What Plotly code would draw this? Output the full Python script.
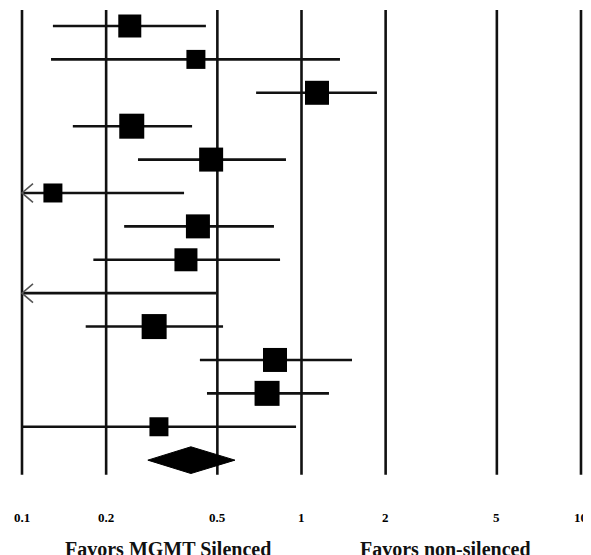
import math
import plotly.graph_objects as go

# ---- data ----
rows = list(range(1, 14))
est = [0.243, 0.419, 1.136, 0.247, 0.475, 0.129, 0.426, 0.386, None, 0.297, 0.804, 0.753, 0.309]
lo = [0.129, 0.127, 0.688, 0.152, 0.260, 0.06, 0.232, 0.180, 0.06, 0.169, 0.433, 0.459, 0.100]
hi = [0.455, 1.373, 1.862, 0.406, 0.880, 0.380, 0.797, 0.838, 0.495, 0.524, 1.516, 1.254, 0.956]
weight_size = [23, 19, 24, 25, 24, 19, 24, 23, 0, 25, 24, 25, 19]
pooled_row = 14
pooled_est, pooled_lo, pooled_hi = 0.402, 0.282, 0.578
tick_vals = [0.1, 0.2, 0.5, 1, 2, 5, 10]
tick_text = ["0.1", "0.2", "0.5", "1", "2", "5", "10"]
left_label = "Favors MGMT Silenced"
right_label = "Favors non-silenced"

XMIN = 0.1
W, H = 583, 547   # page body has an 8px margin
x_range = [-1.0501, 1.0358]
y_range = [16.84, 0.461]

fig = go.Figure()

# vertical reference lines
for v in tick_vals:
    fig.add_shape(type="line", x0=v, x1=v, y0=0.52, y1=14.44, xref="x", yref="y",
                  line=dict(color="#111111", width=2.6), layer="below")

# CI lines
xs, ys = [], []
for r, l, h in zip(rows, lo, hi):
    xs += [max(l, XMIN), h, None]
    ys += [r, r, None]
fig.add_trace(go.Scatter(x=xs, y=ys, mode="lines",
                         line=dict(color="#111111", width=2.6), hoverinfo="skip"))

# arrows for truncated lower bounds
ax, ay = [], []
arm = 10 ** (11 / 279.5)
for r, l in zip(rows, lo):
    if l < XMIN:
        ax += [XMIN * arm, XMIN, XMIN * arm, None]
        ay += [r - 0.28, r, r + 0.28, None]
fig.add_trace(go.Scatter(x=ax, y=ay, mode="lines",
                         line=dict(color="#555555", width=1.6), hoverinfo="skip"))

# squares
sx, sy, ss = [], [], []
for r, e, s in zip(rows, est, weight_size):
    if e is not None:
        sx.append(e); sy.append(r); ss.append(s)
fig.add_trace(go.Scatter(x=sx, y=sy, mode="markers",
                         marker=dict(symbol="square", size=ss, color="#000000", opacity=1,
                                     line=dict(width=0)), hoverinfo="skip"))

# pooled diamond
fig.add_trace(go.Scatter(
    x=[pooled_lo, pooled_est, pooled_hi, pooled_est, pooled_lo],
    y=[pooled_row, pooled_row - 0.4, pooled_row, pooled_row + 0.4, pooled_row],
    mode="lines", fill="toself", fillcolor="#000000",
    line=dict(color="#000000", width=1), hoverinfo="skip"))

# tick labels
for v, t in zip(tick_vals, tick_text):
    fig.add_annotation(x=math.log10(v), y=1 - 509 / H, xref="x", yref="paper",
                       text="<b>" + t + "</b>", showarrow=False,
                       xanchor="center", yanchor="middle",
                       font=dict(family="Liberation Serif", size=13, color="#000000"))

# favour labels
fig.add_annotation(x=55 / W, y=1 - 528 / H, xref="paper", yref="paper",
                   text="<b>" + left_label + "</b>", showarrow=False,
                   xanchor="left", yanchor="top",
                   font=dict(family="Liberation Serif", size=20, color="#111111"))
fig.add_annotation(x=350 / W, y=1 - 528 / H, xref="paper", yref="paper",
                   text="<b>" + right_label + "</b>", showarrow=False,
                   xanchor="left", yanchor="top",
                   font=dict(family="Liberation Serif", size=20, color="#111111"))

fig.update_layout(
    width=W, height=H, margin=dict(l=0, r=0, t=0, b=0),
    plot_bgcolor="white", paper_bgcolor="white", showlegend=False,
    xaxis=dict(type="log", range=x_range, visible=False, fixedrange=True),
    yaxis=dict(range=y_range, visible=False, fixedrange=True),
)

fig.write_html("out.html")
